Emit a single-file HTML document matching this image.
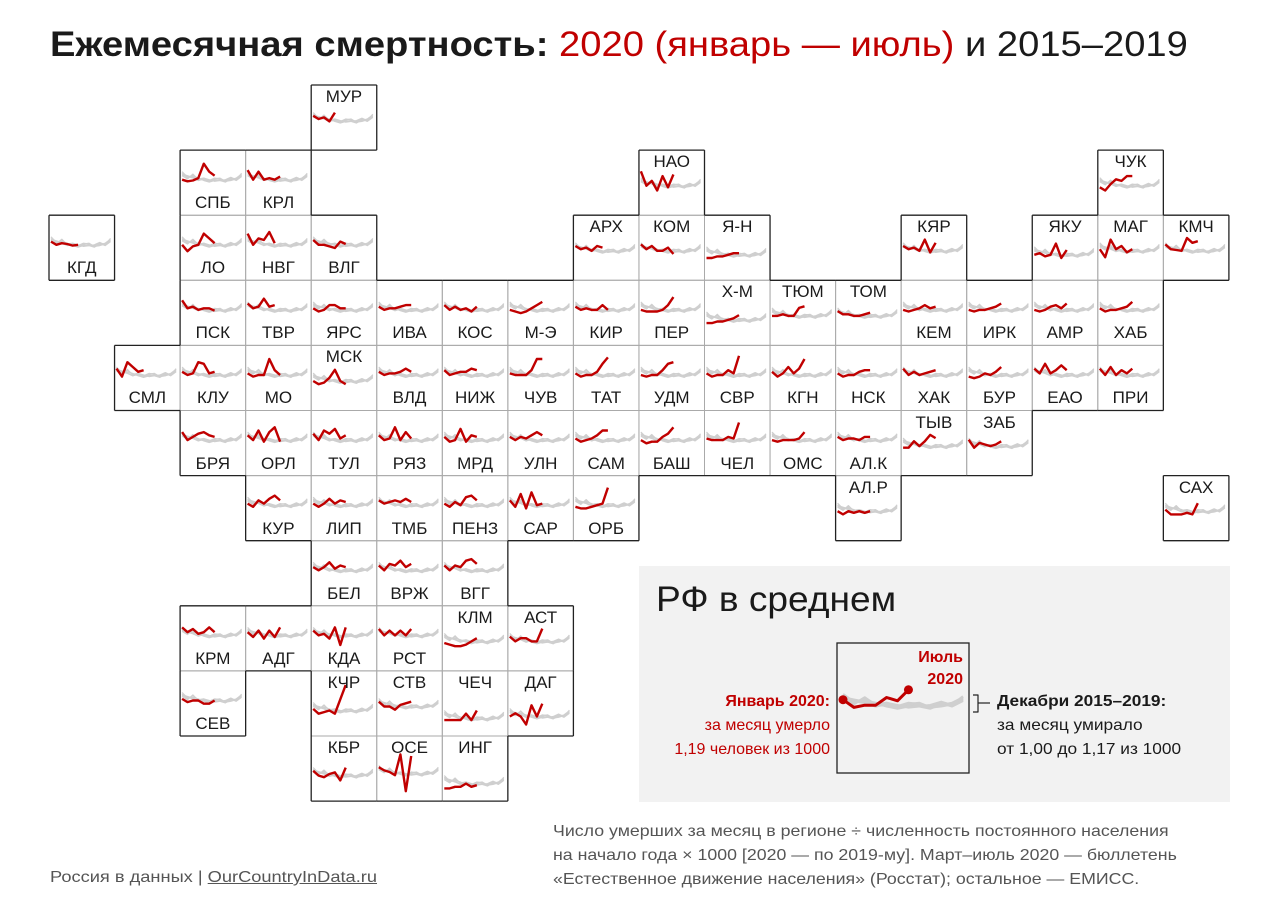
<!DOCTYPE html>
<html><head><meta charset="utf-8"><style>
body{margin:0;background:#fff;width:1280px;height:910px;overflow:hidden;position:relative;font-family:"Liberation Sans","DejaVu Sans",sans-serif;color:#1a1a1a}
.t{position:absolute;white-space:nowrap;transform-origin:0 0}
.cell{position:absolute}
.lbl{position:absolute;left:0;width:100%;text-align:center;font-size:17px;color:#1a1a1a}
</style></head><body>
<div class="t" style="left:50px;top:25px;font-size:35px;transform:scaleX(1.09)"><b>Ежемесячная смертность:</b> <span style="color:#c00000">2020 (январь — июль)</span> и 2015–2019</div>

<svg id="grid" style="position:absolute;left:0;top:0" width="1280" height="910"></svg>
<div id="cells"></div>

<div style="position:absolute;left:639px;top:566px;width:591px;height:236px;background:#f2f2f2"></div>
<div class="t" style="left:656px;top:580px;font-size:35px;color:#1a1a1a;transform:scaleX(1.06)">РФ в среднем</div>
<svg id="leg" style="position:absolute;left:0;top:0" width="1280" height="910"></svg>
<div class="t" style="left:870px;top:647px;width:93px;text-align:right;font-size:16px;line-height:22px;color:#c00000;font-weight:bold">Июль<br>2020</div>
<div class="t" style="left:620px;top:690px;width:210px;text-align:right;font-size:16px;line-height:24px;color:#c00000"><b>Январь 2020:</b><br>за месяц умерло<br>1,19&nbsp;человек из 1000</div>
<div class="t" style="left:997px;top:690px;font-size:16px;line-height:24px;color:#1a1a1a;transform:scaleX(1.08)"><b>Декабри 2015–2019:</b><br>за месяц умирало<br>от 1,00 до 1,17 из 1000</div>

<div class="t" style="left:553px;top:820px;font-size:16px;line-height:24px;color:#555;transform:scaleX(1.11)">Число умерших за месяц в регионе ÷ численность постоянного населения<br>на начало года × 1000 [2020 — по 2019-му]. Март–июль 2020 — бюллетень<br>«Естественное движение населения» (Росстат); остальное — ЕМИСС.</div>
<div class="t" style="left:50px;top:869px;font-size:16px;color:#555;transform:scaleX(1.14)">Россия в данных | <span style="text-decoration:underline">OurCountryInData.ru</span></div>

<script>
// gray history (ratio to baseline), years 2015–2019, 12 months
const y2015=[1.06,1.00,1.04,0.99,1.00,0.96,0.98,0.97,0.95,0.99,0.98,1.03];
const y2016=[1.04,1.02,1.00,0.97,0.99,0.97,1.00,0.99,0.96,0.98,1.00,1.05];
const y2017=[1.08,1.01,1.02,1.00,0.97,0.95,0.97,0.98,0.97,1.00,0.97,1.02];
const y2018=[1.03,0.99,1.05,0.98,0.98,0.96,0.99,1.00,0.96,0.97,0.99,1.04];
const y2019=[1.05,1.03,1.01,0.97,1.00,0.98,0.96,0.97,0.98,1.01,0.98,1.06];
const grayYears=[y2015,y2016,y2017,y2018,y2019];

// region: code, col, row, label top?, mid offset, red 2020 (Jan–Jul)
const regions=[
["МУР",4,0,1,0,[1.04,1.0,1.02,0.97,1.08]],
["СПБ",2,1,0,0,[0.98,0.96,0.97,1.0,1.18,1.08,1.03]],
["КРЛ",3,1,0,0,[1.1,0.98,1.08,0.98,1.0,0.98,1.02]],
["НАО",9,1,1,0,[1.16,0.98,1.04,0.92,1.1,0.96,1.12]],
["ЧУК",16,1,1,0,[0.96,0.92,1.0,1.06,1.04,1.1,1.1]],
["КГД",0,2,0,0,[1.02,0.98,1.0,0.99,0.97,0.98]],
["ЛО",2,2,0,0,[0.98,0.9,0.96,0.98,1.12,1.06,1.0]],
["НВГ",3,2,0,0,[1.12,0.98,1.06,1.04,1.14,1.0]],
["ВЛГ",4,2,0,0,[1.04,0.98,0.98,0.96,0.94,1.02,0.99]],
["АРХ",8,2,1,0,[1.04,1.0,1.02,0.98,1.04,1.02]],
["КОМ",9,2,1,0,[1.06,1.0,1.04,0.98,0.98,1.02,0.94]],
["Я-Н",10,2,1,4,[0.94,0.94,0.96,0.96,0.98,1.0,1.0]],
["КЯР",13,2,1,0,[1.04,1.0,1.02,0.98,1.12,0.96,1.08]],
["ЯКУ",15,2,1,4,[0.98,1.0,0.96,0.98,1.12,0.94,1.04]],
["МАГ",16,2,1,0,[1.0,0.9,1.12,1.0,1.04,0.96,1.0]],
["КМЧ",17,2,1,0,[1.06,1.0,0.99,0.98,1.14,1.08,1.1]],
["ПСК",2,3,0,0,[1.1,1.0,1.02,0.98,1.0,1.0,0.97]],
["ТВР",3,3,0,0,[1.06,1.0,1.02,1.12,1.02,1.04]],
["ЯРС",4,3,0,0,[1.0,0.96,0.98,1.04,1.04,1.0,1.0]],
["ИВА",5,3,0,0,[1.02,0.98,1.0,1.0,1.02,1.04,1.04]],
["КОС",6,3,0,0,[1.04,0.98,1.02,0.98,1.0,0.96,1.02]],
["М-Э",7,3,0,0,[0.98,0.96,0.94,0.96,1.0,1.04,1.08]],
["КИР",8,3,0,0,[1.02,0.98,1.0,0.98,0.98,1.04,0.98]],
["ПЕР",9,3,0,0,[0.98,0.96,0.96,0.96,0.98,1.04,1.14]],
["Х-М",10,3,1,4,[0.94,0.94,0.96,0.96,0.98,1.0,1.04]],
["ТЮМ",11,3,1,0,[0.98,0.98,1.0,0.98,0.98,1.08,1.1]],
["ТОМ",12,3,1,0,[1.04,1.0,1.0,0.98,0.98,1.0,1.02]],
["КЕМ",13,3,0,0,[0.98,0.96,0.98,1.0,1.04,1.0,1.02]],
["ИРК",14,3,0,0,[0.98,0.96,0.98,0.98,1.0,1.02,1.06]],
["АМР",15,3,0,0,[0.98,0.96,0.98,1.02,1.04,1.0,1.06]],
["ХАБ",16,3,0,0,[1.0,0.96,0.98,0.98,1.0,1.02,1.08]],
["СМЛ",1,4,0,0,[1.06,0.96,1.14,1.08,1.02,1.04]],
["КЛУ",2,4,0,0,[1.02,0.98,1.0,1.14,1.12,1.0,1.02]],
["МО",3,4,0,0,[1.0,0.96,0.98,0.98,1.18,1.04,0.98]],
["МСК",4,4,1,0,[0.98,0.94,0.96,1.02,1.12,0.98,0.94]],
["ВЛД",5,4,0,0,[1.02,0.98,1.0,1.0,1.02,1.06,1.02]],
["НИЖ",6,4,0,0,[1.04,0.98,1.0,1.02,1.02,1.06,1.04]],
["ЧУВ",7,4,0,0,[1.0,0.98,0.98,0.98,1.04,1.18,1.18]],
["ТАТ",8,4,0,0,[1.0,0.96,0.98,0.98,1.02,1.12,1.2]],
["УДМ",9,4,0,0,[0.98,0.96,0.98,0.98,1.04,1.12,1.14]],
["СВР",10,4,0,0,[1.0,0.96,0.98,0.98,1.04,1.0,1.22]],
["КГН",11,4,0,0,[1.02,0.96,1.0,1.08,1.0,1.06,1.18]],
["НСК",12,4,0,0,[1.0,0.96,0.98,0.98,1.02,1.04,1.04]],
["ХАК",13,4,0,0,[1.06,0.98,1.02,0.98,1.0,1.02,1.04]],
["БУР",14,4,0,0,[0.96,0.94,0.96,1.0,0.98,1.02,1.08]],
["ЕАО",15,4,0,0,[1.06,1.0,1.12,1.0,1.04,1.1,1.04]],
["ПРИ",16,4,0,0,[1.06,0.98,1.08,0.98,1.04,1.0,1.06]],
["БРЯ",2,5,0,0,[1.08,0.98,1.02,1.06,1.08,1.04,1.02]],
["ОРЛ",3,5,0,0,[1.04,0.98,1.1,0.96,1.08,1.14,0.96]],
["ТУЛ",4,5,0,0,[1.06,0.98,1.1,1.06,1.12,1.0,1.04]],
["РЯЗ",5,5,0,0,[1.04,0.98,1.0,1.14,0.98,1.08,1.0]],
["МРД",6,5,0,0,[1.02,0.96,0.98,1.12,0.96,1.04,1.02]],
["УЛН",7,5,0,0,[1.02,0.98,1.02,1.0,1.04,1.08,1.04]],
["САМ",8,5,0,0,[1.0,0.96,0.98,1.0,1.04,1.1,1.1]],
["БАШ",9,5,0,0,[0.98,0.94,0.96,0.96,1.02,1.06,1.14]],
["ЧЕЛ",10,5,0,0,[1.0,0.98,0.98,0.98,1.02,1.0,1.2]],
["ОМС",11,5,0,0,[0.98,0.96,0.98,0.98,0.98,1.0,1.08]],
["АЛ.К",12,5,0,0,[1.02,0.98,1.0,1.0,0.98,1.02,1.02]],
["ТЫВ",13,5,1,0,[0.96,0.96,1.04,0.98,1.04,1.12,1.08]],
["ЗАБ",14,5,1,0,[1.06,0.96,1.02,1.0,0.98,1.0,1.04]],
["КУР",3,6,0,0,[1.0,0.96,1.04,1.0,1.06,1.1,1.04]],
["ЛИП",4,6,0,0,[1.0,0.96,1.0,1.06,1.0,1.04,1.02]],
["ТМБ",5,6,0,0,[1.04,1.0,1.02,1.04,1.02,1.06,1.02]],
["ПЕНЗ",6,6,0,0,[1.0,0.96,1.02,0.98,1.08,1.1,1.04]],
["САР",7,6,0,0,[1.04,0.96,1.12,0.94,1.14,0.98,1.0]],
["ОРБ",8,6,0,0,[0.96,0.94,0.94,0.96,0.98,1.0,1.2]],
["АЛ.Р",12,6,1,0,[0.98,0.94,0.98,0.96,0.98,0.96,0.98]],
["САХ",17,6,1,0,[1.0,0.94,0.94,0.94,0.96,0.94,1.08]],
["БЕЛ",4,7,0,0,[1.02,0.98,1.02,1.08,1.0,1.04,1.02]],
["ВРЖ",5,7,0,0,[1.04,0.98,1.06,1.04,1.1,1.02,1.06]],
["ВГГ",6,7,0,0,[1.04,0.98,1.04,1.02,1.1,1.12,1.06]],
["КРМ",2,8,0,0,[1.08,1.02,1.06,1.0,1.02,1.08,1.02]],
["АДГ",3,8,0,0,[1.02,0.96,1.04,0.94,1.04,0.96,1.08]],
["КДА",4,8,0,0,[1.04,0.98,1.0,0.94,1.08,0.86,1.08]],
["РСТ",5,8,0,0,[1.06,0.98,1.04,0.98,1.04,0.98,1.06]],
["КЛМ",6,8,1,0,[0.96,0.94,0.92,0.92,0.94,0.98,1.02]],
["АСТ",7,8,1,0,[1.04,0.98,1.02,1.02,0.98,0.98,1.14]],
["СЕВ",2,9,0,0,[1.0,0.96,0.98,0.98,0.94,0.94,0.98]],
["КЧР",4,9,1,4,[1.0,0.94,0.96,0.98,0.94,1.12,1.3]],
["СТВ",5,9,1,0,[1.04,0.98,0.98,0.94,1.0,1.02,1.04]],
["ЧЕЧ",6,9,1,12,[0.96,0.96,0.96,0.96,1.04,0.96,1.08]],
["ДАГ",7,9,1,10,[0.98,1.02,0.98,0.88,1.12,0.98,1.14]],
["КБР",4,10,1,4,[1.04,0.98,0.96,1.0,1.02,0.92,1.08]],
["ОСЕ",5,10,1,2,[1.06,1.02,1.0,0.96,1.22,0.76,1.2]],
["ИНГ",6,10,1,12,[0.92,0.92,0.94,0.94,0.98,0.94,0.96]]
];

const NS="http://www.w3.org/2000/svg";
const X0=49,Y0=85,CW=65.55,CH=65.1,K=80;
const colX=c=>X0+c*CW, rowY=r=>Y0+r*CH;
const occ=new Set(regions.map(d=>d[1]+","+d[2]));
const grid=document.getElementById('grid');
function line(svg,x1,y1,x2,y2,stroke,w){const l=document.createElementNS(NS,'line');l.setAttribute('x1',x1);l.setAttribute('y1',y1);l.setAttribute('x2',x2);l.setAttribute('y2',y2);l.setAttribute('stroke',stroke);l.setAttribute('stroke-width',w);svg.appendChild(l);return l;}
function poly(svg,pts,stroke,w){const p=document.createElementNS(NS,'polyline');p.setAttribute('points',pts.map(q=>q[0].toFixed(1)+","+q[1].toFixed(1)).join(' '));p.setAttribute('fill','none');p.setAttribute('stroke',stroke);p.setAttribute('stroke-width',w);p.setAttribute('stroke-linejoin','round');svg.appendChild(p);return p;}
const blacks=[];
regions.forEach(d=>{const c=d[1],r=d[2],x=colX(c),y=rowY(r),x2=colX(c+1),y2=rowY(r+1);
 const sides=[[x,y,x2,y,c+","+(r-1)],[x,y2,x2,y2,c+","+(r+1)],[x,y,x,y2,(c-1)+","+r],[x2,y,x2,y2,(c+1)+","+r]];
 sides.forEach(s=>{ if(occ.has(s[4])) line(grid,s[0],s[1],s[2],s[3],'#aaa',1); else blacks.push(s);});
});
blacks.forEach(s=>line(grid,s[0],s[1],s[2],s[3],'#222',1.3));

const cont=document.getElementById('cells');
const sx=(x,i)=>x+2+i*(CW-6)/11;
regions.forEach(d=>{
 const [code,c,r,top,off,red]=d;const x=colX(c),y=rowY(r);
 const mid=y+(top?34:28)+off;
 const g=document.createElementNS(NS,'g');
 
 
 grid.appendChild(g);
 grayYears.forEach(yr=>{const p=poly(g,yr.map((v,i)=>[sx(x,i),mid-(v-1)*K]),'#cfcfcf',1.2);
  
  });
 const rp=poly(g,red.map((v,i)=>[sx(x,i),mid-(v-1)*K]),'#c00000',2.4);
 
 
 const lb=document.createElement('div');lb.className='lbl';lb.textContent=code;
 lb.style.left=x+'px';lb.style.width=CW+'px';lb.style.top=(y+(top?2:43))+'px';
 
 
 cont.appendChild(lb);
});

// legend: Russia average
const rfRed=[1.03,0.96,0.98,0.98,1.05,1.02,1.12];
const leg=document.getElementById('leg');
const lx0=837,ly0=643,lw=132,lh=130;
const rect=document.createElementNS(NS,'rect');rect.setAttribute('x',lx0);rect.setAttribute('y',ly0);rect.setAttribute('width',lw);rect.setAttribute('height',lh);rect.setAttribute('fill','none');rect.setAttribute('stroke','#222');rect.setAttribute('stroke-width',1.3);leg.appendChild(rect);
const lmid=703,LK=110,lsx=i=>lx0+6+i*(lw-12)/11;
grayYears.forEach(yr=>poly(leg,yr.map((v,i)=>[lsx(i),lmid-(v-1)*LK]),'#cfcfcf',2.5));
poly(leg,rfRed.map((v,i)=>[lsx(i),lmid-(v-1)*LK]),'#c00000',3);
[[0,rfRed[0]],[6,rfRed[6]]].forEach(([i,v])=>{const ci=document.createElementNS(NS,'circle');ci.setAttribute('cx',lsx(i));ci.setAttribute('cy',lmid-(v-1)*LK);ci.setAttribute('r',4.5);ci.setAttribute('fill','#c00000');leg.appendChild(ci);});
poly(leg,[[973,695],[978,695],[978,712],[973,712]],'#222',1.2);
line(leg,978,703,990,703,'#222',1.2);
</script>
</body></html>
